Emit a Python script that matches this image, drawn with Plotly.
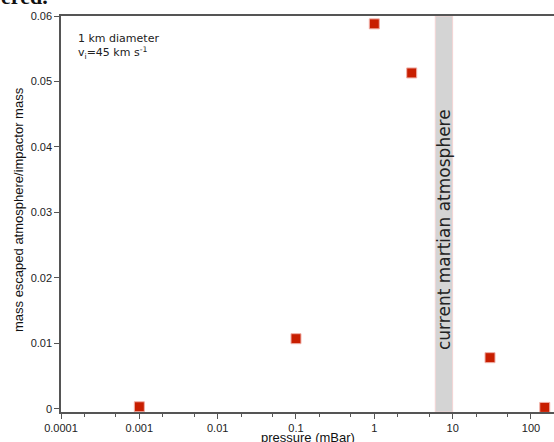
import math
import plotly.graph_objects as go

pressure = [0.001, 0.1, 1, 3, 30, 150]
mass_frac = [0.0003, 0.0107, 0.0588, 0.0513, 0.0078, 0.0002]
band_lo, band_hi = 6, 10
xtick_vals = [0.0001, 0.001, 0.01, 0.1, 1, 10, 100]
xtick_text = ["0.0001", "0.001", "0.01", "0.1", "1", "10", "100"]
ytick_vals = [0, 0.01, 0.02, 0.03, 0.04, 0.05, 0.06]
ytick_text = ["0", "0.01", "0.02", "0.03", "0.04", "0.05", "0.06"]

fig = go.Figure()
fig.add_shape(type="rect", xref="x", yref="paper", x0=band_lo, x1=band_hi, y0=0, y1=1,
              fillcolor="#d4d4d4", line=dict(color="#f4d4d4", width=1), layer="below")
fig.add_trace(go.Scatter(x=pressure, y=mass_frac, mode="markers",
                         marker=dict(symbol="square", size=10, color="#c81e00",
                                     line=dict(color="#f0b0a8", width=1)),
                         showlegend=False, cliponaxis=False))

fig.add_annotation(x=math.log10((band_lo * band_hi) ** 0.5), xref="x", y=0.462, yref="paper",
                   text="current martian atmosphere", textangle=-90, showarrow=False,
                   font=dict(family="DejaVu Sans", size=17, color="#222"))
fig.add_annotation(x=0.03, xref="paper", y=0.965, yref="paper", xanchor="left", yanchor="top",
                   align="left", showarrow=False,
                   text="1 km diameter<br>v<sub>i</sub>=45 km s<sup>-1</sup>",
                   font=dict(family="DejaVu Sans", size=11, color="#222"))
fig.add_annotation(x=0, xref="paper", y=1, yref="paper", xshift=-62, yshift=5,
                   showarrow=False, text="<b>ered.</b>", xanchor="left", yanchor="bottom",
                   font=dict(family="Liberation Serif", size=22, color="#111"))
# axis titles
fig.add_annotation(x=0.5, xref="paper", y=0, yref="paper", yshift=-16, yanchor="top",
                   xanchor="center", showarrow=False, text="pressure (mBar)",
                   font=dict(family="Liberation Sans", size=13, color="#111"))
fig.add_annotation(x=0, xref="paper", y=0.51, yref="paper", xshift=-43, textangle=-90,
                   xanchor="center", yanchor="middle",
                   showarrow=False, text="mass escaped atmosphere/impactor mass",
                   font=dict(family="Liberation Sans", size=13, color="#111"))

axis_common = dict(showline=True, linecolor="#555", linewidth=1.5, showgrid=False,
                   zeroline=False, ticks="outside", ticklen=5, tickcolor="#555",
                   automargin=False,
                   tickfont=dict(family="Liberation Sans", size=11, color="#222"))

fig.update_xaxes(type="log", range=[-4, 2.294], tickvals=xtick_vals, ticktext=xtick_text,
                 minor=dict(ticks="outside", ticklen=3, tickcolor="#555", showgrid=False),
                 mirror=True, **axis_common)
fig.update_yaxes(range=[-0.0005, 0.06], tickvals=ytick_vals, ticktext=ytick_text,
                 **axis_common)

fig.update_layout(width=554, height=442, margin=dict(l=61, r=0, t=16, b=30),
                  plot_bgcolor="white", paper_bgcolor="white")
fig.write_html("out.html", config={"displayModeBar": False},
               post_script="document.body.style.margin='0';")
